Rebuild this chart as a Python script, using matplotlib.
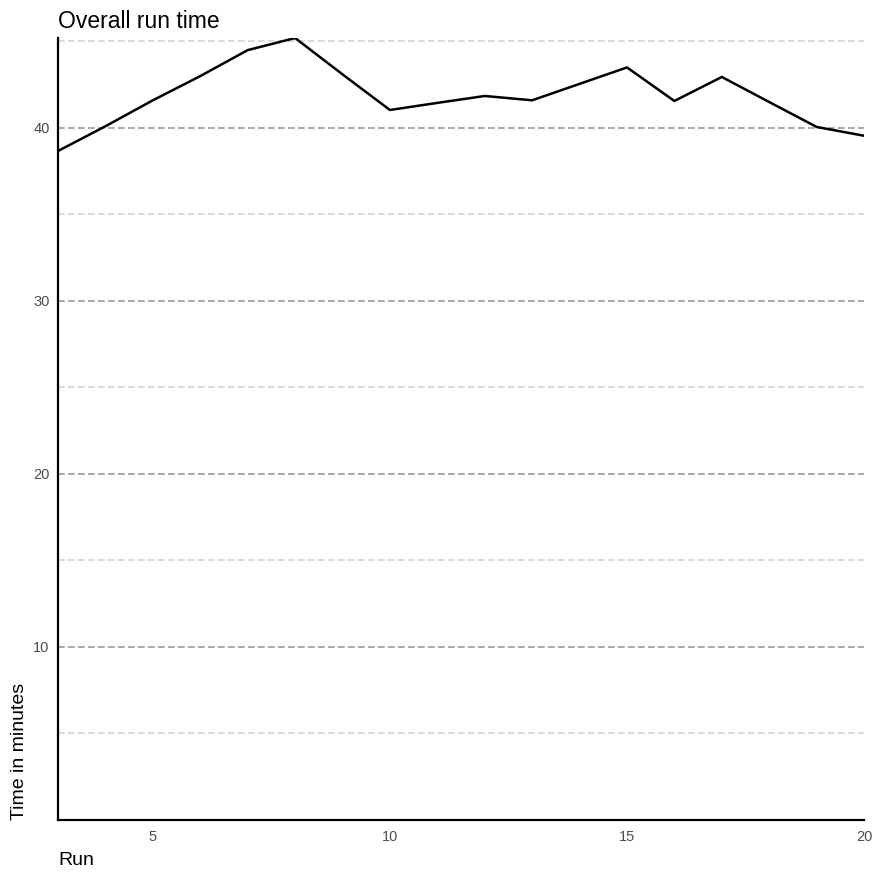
import numpy as np
import matplotlib
matplotlib.use('Agg')
import matplotlib.pyplot as plt
from matplotlib.ticker import MultipleLocator

plt.rcParams['font.family'] = ['Liberation Sans', 'DejaVu Sans']

# run number and total run time (minutes)
runs = [3, 4, 5, 6, 7, 8, 9, 10, 11, 12, 13, 14, 15, 16, 17, 18, 19, 20]
minutes = [38.67, 40.1, 41.6, 43.0, 44.5, 45.2, 43.1, 41.04, 41.45, 41.85,
           41.6, 42.55, 43.5, 41.56, 42.95, 41.5, 40.06, 39.55]
y_major = [10, 20, 30, 40]
x_major = [5, 10, 15, 20]

fig = plt.figure(figsize=(8.74, 8.74), dpi=100)
ax = fig.add_axes([0.0664, 0.0618, 0.9222, 0.8947])

ax.plot(runs, minutes, color='black', linewidth=1.8, zorder=3)

ax.set_xlim(min(runs), max(runs))
ax.set_ylim(0, max(minutes))

ax.set_xticks(x_major)
ax.set_yticks(y_major)
ax.yaxis.set_minor_locator(MultipleLocator(5))
ax.tick_params(axis='both', which='both', length=0, labelsize=10.5,
               labelcolor='#4d4d4d')
ax.tick_params(axis='x', pad=7)
ax.tick_params(axis='y', pad=6)

ax.grid(axis='y', which='major', color='#999999', linestyle=(0, (4, 2)),
        linewidth=1.2)
ax.grid(axis='y', which='minor', color='#d3d3d3', linestyle=(0, (4, 2)),
        linewidth=1.2)
ax.set_axisbelow(True)

for side in ['top', 'right']:
    ax.spines[side].set_visible(False)
for side in ['left', 'bottom']:
    ax.spines[side].set_linewidth(1.6)
    ax.spines[side].set_color('black')

ax.set_title('Overall run time', loc='left', fontsize=16.5, pad=7)
ax.set_xlabel('Run', fontsize=14, loc='left', labelpad=6)
ax.set_ylabel('Time in minutes', fontsize=14, loc='bottom', labelpad=4)

fig.savefig('out.png', dpi=100)
